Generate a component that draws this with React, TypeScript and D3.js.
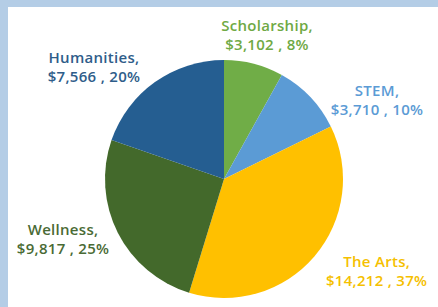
import React from "react";
import * as d3 from "d3";

const categories = ["Scholarship", "STEM", "The Arts", "Wellness", "Humanities"];
const amounts = [3102, 3710, 14212, 9817, 7566];
const percentLabels = ["8%", "10%", "37%", "25%", "20%"];

// layout / style (kept apart from the data)
const W = 438;
const H = 307;
const cx = 224;
const cy = 179;
const R = 119;
const sliceColors = ["#70ad47", "#5b9bd5", "#ffc000", "#43692b", "#255e91"];
const labelColors = ["#6fa944", "#5b9bd5", "#f5c000", "#4a6b35", "#2f5d8a"];
// label anchors (midpoint between the two baselines): angle (deg, clockwise from 12 o'clock) and distance from centre
const labelAngle = [17.2, 64.2, 122.5, 248, 309.3];
const labelDist = [145.5, 170, 181, 173.6, 168];
const lineGap = 19;

export default function App() {
  const pie = d3
    .pie<number>()
    .sort(null)
    .value((d) => d);
  const arcs = pie(amounts);
  const arc = d3.arc<d3.PieArcDatum<number>>().innerRadius(0).outerRadius(R);
  const fmt = d3.format(",");

  return (
    <svg
      width={W}
      height={H}
      style={{ position: "fixed", left: 0, top: 0, display: "block" }}
    >
      <rect x={0} y={0} width={W} height={H} fill="#b4cde6" />
      <rect x={8} y={7} width={W - 8} height={H - 7} fill="#ffffff" />
      <g transform={`translate(${cx},${cy})`}>
        {arcs.map((a, i) => (
          <path key={i} d={arc(a) || ""} fill={sliceColors[i]} />
        ))}
      </g>
      {arcs.map((a, i) => {
        const ang = (labelAngle[i] * Math.PI) / 180;
        const x = cx + Math.sin(ang) * labelDist[i];
        const y = cy - Math.cos(ang) * labelDist[i];
        return (
          <text
            key={i}
            textAnchor="middle"
            fill={labelColors[i]}
            style={{
              fontFamily: "'Open Sans', sans-serif",
              fontWeight: 600,
              fontSize: 15,
              letterSpacing: 0.3,
            }}
          >
            <tspan x={x} y={y - lineGap / 2}>{categories[i] + ","}</tspan>
            <tspan x={x} y={y + lineGap / 2}>
              {"$" + fmt(amounts[i]) + " , " + percentLabels[i]}
            </tspan>
          </text>
        );
      })}
    </svg>
  );
}
